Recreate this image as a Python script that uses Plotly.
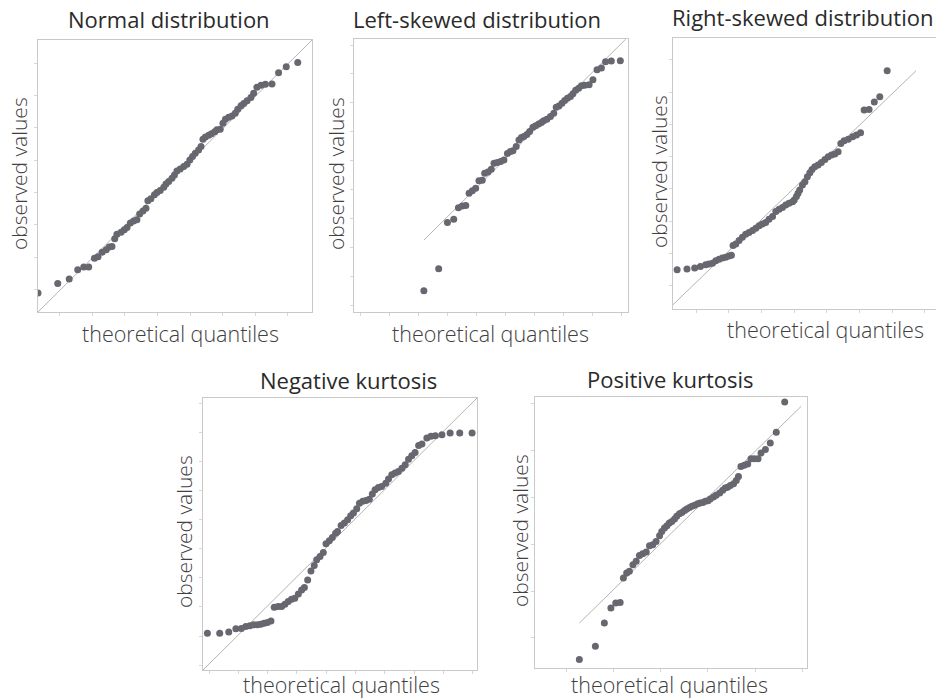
import plotly.graph_objects as go

# ---------------- data (0-100 scale per panel) ----------------
titles = ["Normal distribution", "Left-skewed distribution", "Right-skewed distribution",
          "Negative kurtosis", "Positive kurtosis"]
x_label = "theoretical quantiles"
y_label = "observed values"

normal_x = [0, 7.2, 11.4, 14.5, 16.7, 18.5, 20.6, 21.9, 23.4, 24.9, 26.0, 27.0, 28.0, 28.8, 30.3, 31.5,
            32.5, 33.7, 34.9, 36.1, 37.1, 38.3, 39.4, 40.1, 41.2, 42.5, 43.4, 44.6, 45.9, 46.7, 47.7,
            48.9, 49.8, 50.7, 51.9, 53.2, 54.4, 55.4, 56.4, 57.4, 58.6, 59.5, 60.2, 61.1, 62.3, 63.3,
            64.5, 65.3, 66.5, 67.5, 68.4, 69.6, 70.8, 72.0, 72.9, 74.1, 75.1, 76.3, 77.7, 78.7, 79.9,
            81.4, 83.0, 85.4, 87.8, 90.6, 94.8]
normal_y = [7.0, 10.5, 12.1, 15.5, 16.5, 16.5, 19.8, 20.3, 22.0, 22.9, 23.9, 24.1, 26.9, 28.6, 29.3, 30.2,
            31.1, 32.7, 33.5, 33.9, 36.0, 37.1, 38.1, 40.9, 41.6, 43.1, 43.9, 44.7, 45.9, 47.1, 48.0,
            49.2, 50.4, 51.8, 52.6, 53.5, 54.3, 55.9, 57.2, 58.4, 59.6, 60.8, 63.5, 64.3, 65.0, 65.5,
            66.3, 67.0, 67.2, 69.4, 70.9, 71.6, 72.1, 73.1, 74.5, 75.8, 76.7, 77.7, 78.9, 80.4, 82.6,
            83.4, 83.7, 83.8, 88.0, 90.2, 91.7]
normal_line_x = [0, 100]
normal_line_y = [0, 100]

left_x = [25.5, 30.9, 34.1, 36.4, 38.1, 39.5, 40.8, 42.0, 43.2, 44.4, 45.6, 46.8, 47.7, 48.9, 50.1, 51.1,
          52.3, 53.5, 54.7, 56.0, 57.1, 58.0, 59.2, 60.2, 61.1, 62.0, 63.1, 64.1, 65.3, 66.3, 67.4,
          68.4, 69.2, 70.4, 71.7, 72.9, 73.8, 74.8, 75.9, 76.9, 77.9, 79.0, 79.9, 80.9, 82.0, 83.0,
          84.2, 85.8, 87.2, 88.7, 90.3, 91.8, 93.9, 97.2]
left_y = [7.8, 15.8, 32.8, 34.0, 38.2, 38.8, 39.0, 43.5, 44.4, 45.3, 48.1, 48.3, 50.8, 51.3, 52.3, 54.5,
          54.8, 55.1, 55.7, 58.1, 58.8, 59.1, 60.6, 63.0, 63.9, 64.3, 65.0, 66.1, 67.7, 68.2, 68.9,
          69.4, 70.1, 70.6, 71.6, 72.8, 75.0, 75.5, 76.5, 77.5, 78.3, 78.9, 79.9, 81.2, 82.0, 82.9,
          83.1, 83.2, 85.1, 88.7, 89.4, 91.7, 91.9, 92.0]
left_line_x = [25.5, 99.2]
left_line_y = [26.3, 100]

right_x = [1.5, 5.1, 7.9, 10.0, 11.9, 13.1, 14.4, 15.6, 16.8, 18.0, 19.2, 20.4, 21.3, 21.9, 22.9, 24.1,
           25.3, 26.5, 27.7, 29.0, 30.2, 31.4, 32.6, 33.8, 35.0, 36.3, 37.5, 38.7, 39.9, 41.1, 42.3,
           43.6, 44.2, 45.0, 45.6, 46.2, 47.2, 48.1, 49.0, 49.9, 50.7, 51.7, 52.9, 54.1, 55.4, 56.6,
           57.8, 59.0, 60.2, 61.2, 62.4, 63.9, 65.5, 66.9, 68.4, 69.7, 71.5, 73.4, 75.4, 78.1]
right_y = [14.5, 14.8, 15.1, 15.7, 16.3, 16.6, 16.9, 17.8, 18.4, 18.8, 19.1, 19.6, 19.8, 23.4, 24.0, 25.3,
           26.5, 27.6, 28.2, 29.0, 29.8, 30.7, 31.4, 31.9, 33.1, 34.1, 36.0, 36.8, 37.5, 38.4, 39.0,
           39.6, 40.2, 41.5, 42.7, 43.9, 45.8, 47.0, 48.8, 50.3, 51.5, 52.5, 53.1, 54.1, 55.2, 56.2,
           56.8, 57.2, 58.0, 61.1, 62.1, 62.6, 63.6, 64.2, 65.0, 73.4, 73.6, 76.4, 78.3, 87.9]
right_line_x = [0, 88.6]
right_line_y = [1.6, 87.9]

negk_x = [1.6, 6.1, 9.4, 12.0, 14.0, 15.6, 17.1, 18.5, 19.9, 21.1, 22.3, 23.5, 24.8, 26.0, 27.4, 28.7,
          29.9, 31.1, 32.3, 33.5, 34.8, 36.0, 37.0, 38.2, 39.4, 40.6, 41.5, 42.7, 43.9, 44.9, 46.1,
          47.2, 48.4, 49.1, 50.4, 51.6, 52.8, 53.9, 54.9, 56.1, 57.1, 58.3, 59.5, 60.7, 61.8, 62.8,
          64.0, 65.2, 66.7, 67.7, 68.9, 70.1, 71.3, 72.6, 73.8, 75.0, 76.2, 77.4, 78.7, 79.9, 81.7,
          83.2, 84.8, 87.2, 90.2, 93.7, 98.2]
negk_y = [13.5, 13.5, 14.0, 15.2, 15.3, 16.0, 16.3, 16.6, 16.6, 16.8, 17.2, 17.5, 18.0, 23.1, 23.3, 23.3,
          24.2, 25.2, 26.0, 26.4, 27.9, 29.4, 30.3, 33.1, 36.4, 38.4, 40.5, 41.7, 43.2, 46.4, 47.5,
          48.7, 50.3, 50.9, 53.1, 54.0, 55.2, 56.7, 57.7, 59.3, 61.3, 62.0, 62.3, 62.8, 64.7, 66.3,
          67.1, 67.5, 68.7, 70.2, 71.8, 72.4, 73.0, 74.2, 75.5, 77.5, 78.8, 80.0, 82.5, 83.1, 85.3,
          85.9, 86.1, 86.5, 87.1, 87.1, 87.1]
negk_line_x = [0, 100]
negk_line_y = [0, 100]

posk_x = [16.3, 22.2, 25.5, 27.9, 29.7, 31.3, 32.5, 33.7, 34.7, 36.0, 37.2, 38.4, 39.6, 40.9, 42.1, 43.3,
          44.5, 45.8, 46.6, 47.6, 48.5, 49.4, 50.3, 51.3, 52.1, 53.1, 54.0, 55.0, 55.8, 56.8, 57.7,
          58.7, 59.8, 60.7, 61.7, 62.6, 63.6, 64.4, 65.6, 66.6, 67.9, 69.0, 69.9, 70.8, 71.8, 73.0,
          74.0, 74.8, 75.7, 76.9, 78.2, 79.4, 80.6, 82.0, 83.1, 84.7, 86.5, 88.7, 91.8]
posk_y = [3.1, 8.0, 16.6, 22.1, 24.0, 24.2, 33.2, 35.1, 35.7, 38.1, 39.4, 41.5, 42.2, 42.8, 45.1, 45.5,
          46.7, 48.8, 50.4, 51.7, 52.5, 53.5, 54.1, 55.0, 56.0, 56.9, 57.4, 58.1, 58.7, 59.2, 59.7,
          60.1, 60.6, 60.9, 61.1, 61.5, 61.7, 62.4, 63.1, 63.7, 64.6, 65.6, 66.4, 66.7, 67.3, 68.0,
          69.2, 70.7, 74.4, 74.8, 75.3, 77.2, 77.2, 77.2, 79.3, 80.6, 83.0, 87.0, 98.2]
posk_line_x = [16.3, 97.9]
posk_line_y = [16.6, 96.6]

panels_x = [normal_x, left_x, right_x, negk_x, posk_x]
panels_y = [normal_y, left_y, right_y, negk_y, posk_y]
lines_x = [normal_line_x, left_line_x, right_line_x, negk_line_x, posk_line_x]
lines_y = [normal_line_y, left_line_y, right_line_y, negk_line_y, posk_line_y]

# ---------------- layout helpers ----------------
W, H = 936, 700
# plot frames in pixels: (left, right, top, bottom)
frames = [(38, 312, 40, 312), (354, 628, 39, 312), (673, 936, 38, 309),
          (203, 477, 398, 670), (535, 807, 397, 668)]
x_ranges = [[0, 100], [0, 100], [0, 95.9], [0, 100], [0, 100]]
tick_x0 = [7.9, 2.3, 8.5, 2.2, 11.7]
tick_y0 = [8.2, 2.4, 8.6, 1.8, 11.1]
tick_d = [11.9, 10.6, 11.9, 10.7, 17.3]

title_pos = [(169, 19), (477, 19), (802, 17), (348, 380), (670, 379)]
xlab_pos = [(180, 333), (490, 333), (825, 329), (341, 684), (669, 684)]
ylab_pos = [(19, 174), (336, 174), (659, 172), (184, 532), (520, 531)]

MARK = "#67676f"
FRAME = "#c9c9c9"
DIAG = "#b4b4b4"
FONT = "Open Sans"

fig = go.Figure()
layout = dict(width=W, height=H, margin=dict(l=0, r=0, t=0, b=0),
              paper_bgcolor="white", plot_bgcolor="white", showlegend=False)
annotations = []

for i in range(5):
    n = "" if i == 0 else str(i + 1)
    xa, ya = "x" + n, "y" + n
    fig.add_trace(go.Scatter(x=lines_x[i], y=lines_y[i], mode="lines", xaxis=xa, yaxis=ya,
                             line=dict(color=DIAG, width=1), hoverinfo="skip"))
    fig.add_trace(go.Scatter(x=panels_x[i], y=panels_y[i], mode="markers", xaxis=xa, yaxis=ya,
                             marker=dict(color=MARK, size=7, line=dict(width=0))))
    l, r, t, b = frames[i]
    common = dict(showgrid=False, zeroline=False, showticklabels=False, showline=True,
                  linecolor=FRAME, linewidth=1, ticks="outside", ticklen=3, tickwidth=1,
                  tickcolor="#d6d6d6", tickmode="linear", dtick=tick_d[i], fixedrange=True)
    layout["xaxis" + n] = dict(domain=[l / W, r / W], range=x_ranges[i], anchor=ya,
                               mirror=True, tick0=tick_x0[i], **common)
    layout["yaxis" + n] = dict(domain=[1 - b / H, 1 - t / H], range=[0, 100], anchor=xa,
                               mirror=(i != 2), tick0=tick_y0[i], **common)
    tx, ty = title_pos[i]
    annotations.append(dict(text=titles[i], x=tx / W, y=1 - ty / H, xref="paper", yref="paper",
                            xanchor="center", yanchor="middle", showarrow=False,
                            font=dict(family=FONT, size=22, color="#2a2a2a")))
    lx, ly = xlab_pos[i]
    annotations.append(dict(text=x_label, x=lx / W, y=1 - ly / H, xref="paper", yref="paper",
                            xanchor="center", yanchor="middle", showarrow=False,
                            font=dict(family=FONT, size=21.5, color="#404040", weight=300)))
    vx, vy = ylab_pos[i]
    annotations.append(dict(text=y_label, x=vx / W, y=1 - vy / H, xref="paper", yref="paper",
                            xanchor="center", yanchor="middle", showarrow=False, textangle=-90,
                            font=dict(family=FONT, size=21, color="#404040", weight=300)))

layout["annotations"] = annotations
fig.update_layout(**layout)
fig.write_html("out.html")
